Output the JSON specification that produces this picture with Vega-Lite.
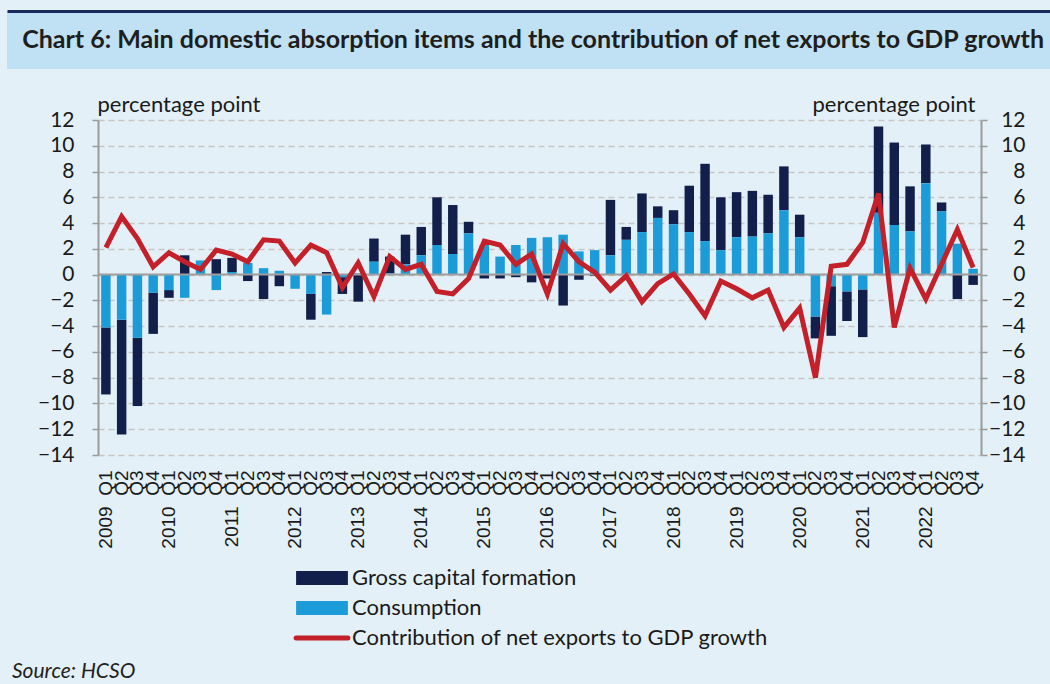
{
 "$schema": "https://vega.github.io/schema/vega-lite/v6.json",
 "background": "#e3f0f7",
 "padding": {"left": 7, "top": 11, "right": 0, "bottom": 4},
 "config": {"view": {"stroke": null}, "font": "Lato"},
 "title": {"text": "Source: HCSO", "orient": "bottom", "anchor": "start", "font": "Lato", "fontStyle": "italic", "fontWeight": "normal", "fontSize": 21, "color": "#222222", "dx": 5, "offset": 12},
 "center": true,
 "bounds": "flush",
 "spacing": 51,
 "vconcat": [
  {
   "width": 1065,
   "height": 58,
   "view": {"fill": "#bfe1f3", "stroke": null},
   "data": {"values": [{"t": "Chart 6: Main domestic absorption items and the contribution of net exports to GDP growth"}]},
   "mark": {"type": "text", "font": "Lato", "fontWeight": "bold", "fontSize": 25, "color": "#1e1e1e", "align": "center", "baseline": "middle"},
   "encoding": {
    "text": {"field": "t"},
    "x": {"datum": 0.494, "type": "quantitative", "scale": {"domain": [0, 1]}, "axis": {"orient": "top", "domainColor": "#1b2a5c", "domainWidth": 3, "ticks": false, "labels": false, "grid": false, "title": null}}
   }
  },
  {
   "width": 883,
   "height": 335,
   "data": {"values": [
    {"q": "2009 Q1", "cons": -4.1, "gcf": -5.2, "nx": 2.1},
    {"q": "2009 Q2", "cons": -3.5, "gcf": -8.9, "nx": 4.5},
    {"q": "2009 Q3", "cons": -4.9, "gcf": -5.3, "nx": 2.8},
    {"q": "2009 Q4", "cons": -1.4, "gcf": -3.2, "nx": 0.6},
    {"q": "2010 Q1", "cons": -1.2, "gcf": -0.6, "nx": 1.7},
    {"q": "2010 Q2", "cons": -1.8, "gcf": 1.5, "nx": 1.0},
    {"q": "2010 Q3", "cons": 1.1, "gcf": 0.0, "nx": 0.4},
    {"q": "2010 Q4", "cons": -1.2, "gcf": 1.2, "nx": 1.9},
    {"q": "2011 Q1", "cons": 0.2, "gcf": 1.1, "nx": 1.6},
    {"q": "2011 Q2", "cons": 0.9, "gcf": -0.5, "nx": 1.0},
    {"q": "2011 Q3", "cons": 0.5, "gcf": -1.9, "nx": 2.7},
    {"q": "2011 Q4", "cons": 0.3, "gcf": -0.9, "nx": 2.6},
    {"q": "2012 Q1", "cons": -1.1, "gcf": 0.0, "nx": 0.9},
    {"q": "2012 Q2", "cons": -1.5, "gcf": -2.0, "nx": 2.3},
    {"q": "2012 Q3", "cons": -3.1, "gcf": 0.2, "nx": 1.7},
    {"q": "2012 Q4", "cons": -0.2, "gcf": -1.3, "nx": -1.0},
    {"q": "2013 Q1", "cons": 0.1, "gcf": -2.1, "nx": 0.9},
    {"q": "2013 Q2", "cons": 1.0, "gcf": 1.8, "nx": -1.7},
    {"q": "2013 Q3", "cons": 0.1, "gcf": 1.3, "nx": 1.4},
    {"q": "2013 Q4", "cons": 0.8, "gcf": 2.3, "nx": 0.4},
    {"q": "2014 Q1", "cons": 1.5, "gcf": 2.2, "nx": 0.8},
    {"q": "2014 Q2", "cons": 2.3, "gcf": 3.7, "nx": -1.3},
    {"q": "2014 Q3", "cons": 1.6, "gcf": 3.8, "nx": -1.5},
    {"q": "2014 Q4", "cons": 3.2, "gcf": 0.9, "nx": -0.3},
    {"q": "2015 Q1", "cons": 2.3, "gcf": -0.3, "nx": 2.6},
    {"q": "2015 Q2", "cons": 1.4, "gcf": -0.3, "nx": 2.3},
    {"q": "2015 Q3", "cons": 2.3, "gcf": -0.2, "nx": 0.8},
    {"q": "2015 Q4", "cons": 2.85, "gcf": -0.6, "nx": 1.6},
    {"q": "2016 Q1", "cons": 2.9, "gcf": -0.3, "nx": -1.5},
    {"q": "2016 Q2", "cons": 3.1, "gcf": -2.4, "nx": 2.4},
    {"q": "2016 Q3", "cons": 1.8, "gcf": -0.4, "nx": 1.0},
    {"q": "2016 Q4", "cons": 1.9, "gcf": -0.1, "nx": 0.2},
    {"q": "2017 Q1", "cons": 1.5, "gcf": 4.3, "nx": -1.2},
    {"q": "2017 Q2", "cons": 2.7, "gcf": 1.0, "nx": -0.1},
    {"q": "2017 Q3", "cons": 3.3, "gcf": 3.0, "nx": -2.1},
    {"q": "2017 Q4", "cons": 4.4, "gcf": 0.9, "nx": -0.7},
    {"q": "2018 Q1", "cons": 3.9, "gcf": 1.1, "nx": 0.05},
    {"q": "2018 Q2", "cons": 3.3, "gcf": 3.6, "nx": -1.5},
    {"q": "2018 Q3", "cons": 2.6, "gcf": 6.0, "nx": -3.2},
    {"q": "2018 Q4", "cons": 1.9, "gcf": 4.1, "nx": -0.5},
    {"q": "2019 Q1", "cons": 2.9, "gcf": 3.5, "nx": -1.1},
    {"q": "2019 Q2", "cons": 2.95, "gcf": 3.55, "nx": -1.8},
    {"q": "2019 Q3", "cons": 3.2, "gcf": 3.0, "nx": -1.2},
    {"q": "2019 Q4", "cons": 5.0, "gcf": 3.4, "nx": -4.1},
    {"q": "2020 Q1", "cons": 2.9, "gcf": 1.75, "nx": -2.6},
    {"q": "2020 Q2", "cons": -3.25, "gcf": -1.7, "nx": -8.0},
    {"q": "2020 Q3", "cons": -0.9, "gcf": -3.85, "nx": 0.65},
    {"q": "2020 Q4", "cons": -1.3, "gcf": -2.3, "nx": 0.8},
    {"q": "2021 Q1", "cons": -1.15, "gcf": -3.7, "nx": 2.5},
    {"q": "2021 Q2", "cons": 4.8, "gcf": 6.7, "nx": 6.3},
    {"q": "2021 Q3", "cons": 3.85, "gcf": 6.4, "nx": -4.1},
    {"q": "2021 Q4", "cons": 3.35, "gcf": 3.5, "nx": 0.5},
    {"q": "2022 Q1", "cons": 7.1, "gcf": 3.0, "nx": -1.9},
    {"q": "2022 Q2", "cons": 4.9, "gcf": 0.7, "nx": 0.8},
    {"q": "2022 Q3", "cons": 2.4, "gcf": -1.9, "nx": 3.5},
    {"q": "2022 Q4", "cons": 0.45, "gcf": -0.8, "nx": 0.55}
   ]},
   "layer": [
    {
     "transform": [{"fold": ["gcf", "cons"], "as": ["series", "value"]}],
     "mark": {"type": "bar"},
     "encoding": {
      "x": {"field": "q", "type": "nominal", "sort": null,
       "scale": {"paddingInner": 0.4, "paddingOuter": 0.2},
       "axis": {"orient": "bottom", "title": null, "domain": false, "ticks": false, "tickSize": 0, "grid": false,
        "labelAngle": 270, "labelAlign": "right", "labelBaseline": "middle", "labelPadding": 15,
        "labelFont": "Liberation Sans", "labelFontSize": 19, "labelColor": "#1a1a1a",
        "labelOverlap": false, "labelBound": false, "labelLimit": 200,
        "labelExpr": "indexof(datum.label, 'Q1') >= 0 ? replace(datum.label, ' ', '\u00a0\u00a0') : slice(datum.label, 5)"}},
      "y": {"field": "value", "type": "quantitative", "stack": "zero",
       "scale": {"domain": [-14, 12], "nice": false},
       "axis": {"orient": "left", "values": [-14, -12, -10, -8, -6, -4, -2, 0, 2, 4, 6, 8, 10, 12],
        "grid": true, "gridDash": [6, 4], "gridColor": "#c6c6c6", "gridWidth": 1.5,
        "domain": true, "domainColor": "#9a9a9a", "domainWidth": 2,
        "ticks": true, "tickSize": 6, "tickColor": "#9a9a9a", "tickWidth": 1.5,
        "labelFont": "Lato", "labelFontSize": 21, "labelColor": "#1a1a1a", "labelPadding": 18,
        "title": "percentage point", "titleAngle": 0, "titleAlign": "left", "titleBaseline": "alphabetic",
        "titleX": -1, "titleY": -9, "titleFont": "Lato", "titleFontSize": 22, "titleFontWeight": "normal", "titleColor": "#1a1a1a"}},
      "color": {"field": "series", "type": "nominal",
       "scale": {"domain": ["gcf", "cons", "nx"], "range": ["#121f4a", "#1b9cd9", "#c4202a"]},
       "legend": {"orient": "none", "legendX": 304, "legendY": 556, "direction": "vertical", "title": null,
        "labelExpr": "datum.value == 'gcf' ? 'Gross capital formation' : datum.value == 'cons' ? 'Consumption' : 'Contribution of net exports to GDP growth'",
        "labelFont": "Lato", "labelFontSize": 22, "labelColor": "#1a1a1a", "labelLimit": 700,
        "symbolType": "M-3.7,-1H3.7V1H-3.7Z", "symbolSize": 196, "labelOffset": 19, "rowPadding": 8,
        "encode": {"symbols": {"update": {
         "shape": {"signal": "datum.value == 'nx' ? 'M-3.7,0H3.7' : 'M-3.7,-1H3.7V1H-3.7Z'"},
         "fill": {"signal": "datum.value == 'nx' ? 'transparent' : (datum.value == 'gcf' ? '#121f4a' : '#1b9cd9')"},
         "stroke": {"signal": "datum.value == 'nx' ? '#c4202a' : 'transparent'"},
         "strokeWidth": {"signal": "datum.value == 'nx' ? 5 : 0"},
         "strokeCap": {"value": "round"},
         "opacity": {"value": 1},
         "fillOpacity": {"value": 1}
        }}}}},
      "order": {"field": "series", "sort": "ascending"}
     }
    },
    {
     "data": {"values": [{"zero": 0}]},
     "mark": {"type": "rule", "color": "#9e9e9e", "strokeWidth": 2},
     "encoding": {
      "y": {"field": "zero", "type": "quantitative", "scale": {"domain": [-14, 12], "nice": false}, "axis": null}
     }
    },
    {
     "transform": [{"fold": ["nx"], "as": ["series", "value"]}],
     "mark": {"type": "line", "strokeWidth": 5},
     "encoding": {
      "x": {"field": "q", "type": "nominal", "sort": null},
      "y": {"field": "value", "type": "quantitative",
       "scale": {"domain": [-14, 12], "nice": false},
       "axis": {"orient": "right", "values": [-14, -12, -10, -8, -6, -4, -2, 0, 2, 4, 6, 8, 10, 12],
        "grid": false, "domain": true, "domainColor": "#9a9a9a", "domainWidth": 2,
        "ticks": true, "tickSize": 6, "tickColor": "#9a9a9a", "tickWidth": 1.5,
        "labelFont": "Lato", "labelFontSize": 21, "labelColor": "#1a1a1a", "labelPadding": 38, "labelAlign": "right",
        "title": "percentage point", "titleAngle": 0, "titleAlign": "right", "titleBaseline": "alphabetic",
        "titleX": -6, "titleY": -9, "titleFont": "Lato", "titleFontSize": 22, "titleFontWeight": "normal", "titleColor": "#1a1a1a"}},
      "color": {"field": "series", "type": "nominal"}
     }
    }
   ],
   "resolve": {"scale": {"y": "independent"}, "axis": {"y": "independent"}}
  }
 ]
}
